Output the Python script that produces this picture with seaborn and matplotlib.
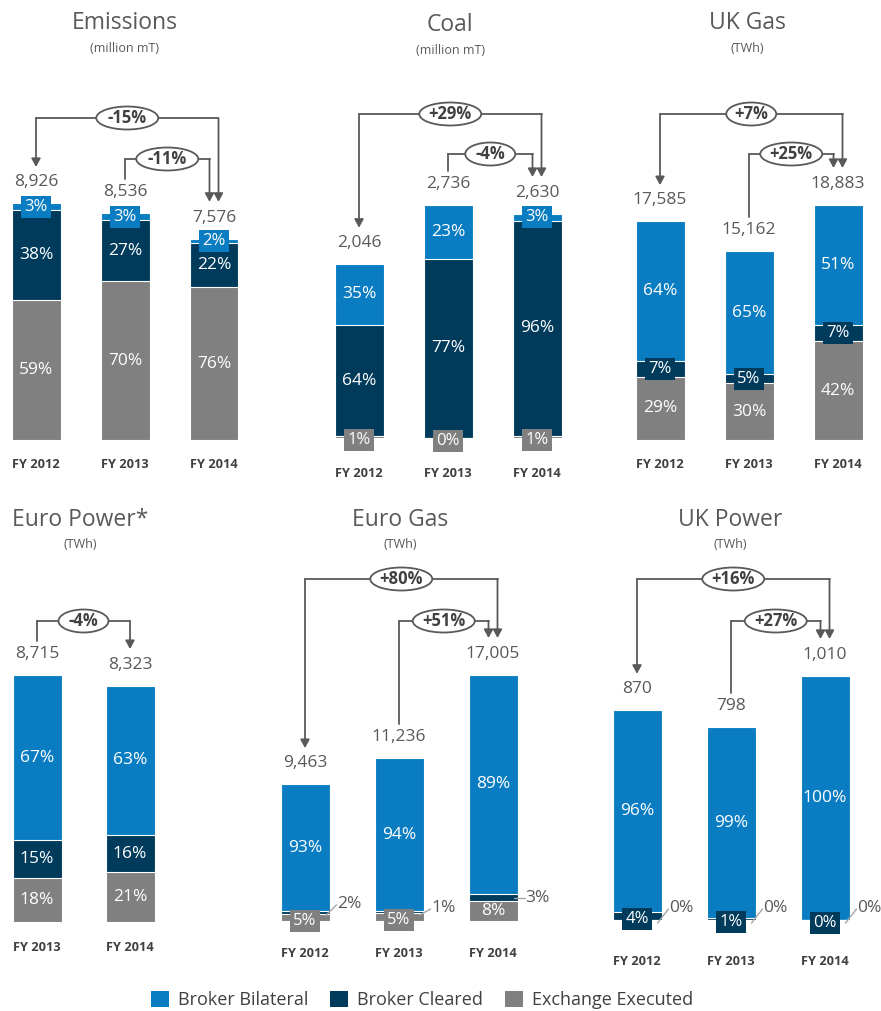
import matplotlib
matplotlib.use("Agg")
import matplotlib.pyplot as plt
from matplotlib.patches import Patch, Ellipse
import seaborn as sns
import pandas as pd

sns.set_theme(style="white")
plt.rcParams["font.family"] = ["Open Sans", "DejaVu Sans"]

W, H, DPI = 881, 1011, 100

BLUE = "#0a7dc2"
NAVY = "#003b5c"
GRAY = "#808080"
LINE = "#595959"
TXT = "#595959"
DARK = "#404040"

series = ["Broker Bilateral", "Broker Cleared", "Exchange Executed"]

# ---------------- data ----------------
emissions_years = ["FY 2012", "FY 2013", "FY 2014"]
emissions_total = [8926, 8536, 7576]
emissions_bilateral = [3, 3, 2]
emissions_cleared = [38, 27, 22]
emissions_exchange = [59, 70, 76]
emissions_changes = ["-15%", "-11%"]

coal_years = ["FY 2012", "FY 2013", "FY 2014"]
coal_total = [2046, 2736, 2630]
coal_bilateral = [35, 23, 3]
coal_cleared = [64, 77, 96]
coal_exchange = [1, 0, 1]
coal_changes = ["+29%", "-4%"]

ukgas_years = ["FY 2012", "FY 2013", "FY 2014"]
ukgas_total = [17585, 15162, 18883]
ukgas_bilateral = [64, 65, 51]
ukgas_cleared = [7, 5, 7]
ukgas_exchange = [29, 30, 42]
ukgas_changes = ["+7%", "+25%"]

europower_years = ["FY 2013", "FY 2014"]
europower_total = [8715, 8323]
europower_bilateral = [67, 63]
europower_cleared = [15, 16]
europower_exchange = [18, 21]
europower_changes = ["-4%"]

eurogas_years = ["FY 2012", "FY 2013", "FY 2014"]
eurogas_total = [9463, 11236, 17005]
eurogas_bilateral = [93, 94, 89]
eurogas_cleared = [2, 1, 3]
eurogas_exchange = [5, 5, 8]
eurogas_changes = ["+80%", "+51%"]

ukpower_years = ["FY 2012", "FY 2013", "FY 2014"]
ukpower_total = [870, 798, 1010]
ukpower_bilateral = [96, 99, 100]
ukpower_cleared = [4, 1, 0]
ukpower_exchange = [0, 0, 0]
ukpower_changes = ["+16%", "+27%"]

# ---------------- layout (pixels, top-origin) ----------------
layouts = {
    "Emissions": dict(unit="(million mT)", tx=125, ty=23, sy=48, c0=36, s=89, bottom=440, top_bar=203,
                      levels=[118, 159], pad=13),
    "Coal": dict(unit="(million mT)", tx=450, ty=25, sy=50, c0=359, s=89, bottom=438, top_bar=205,
                 levels=[114, 154], pad=21),
    "UK Gas": dict(unit="(TWh)", tx=747, ty=23, sy=48, c0=660, s=89, bottom=440, top_bar=205,
                   levels=[114, 154], pad=13),
    "Euro Power*": dict(unit="(TWh)", tx=80, ty=520, sy=545, c0=37, s=93, bottom=922, top_bar=675,
                        levels=[621], pad=14),
    "Euro Gas": dict(unit="(TWh)", tx=400, ty=520, sy=545, c0=305, s=94, bottom=921, top_bar=675,
                     levels=[579, 621], pad=19),
    "UK Power": dict(unit="(TWh)", tx=730, ty=520, sy=545, c0=637, s=94, bottom=920, top_bar=676,
                     levels=[579, 621], pad=25),
}

# segments labelled outside with a leader line: (panel, bar index, series) -> rise in px
outside = {
    ("Euro Gas", 0, "Broker Cleared"): 9,
    ("Euro Gas", 1, "Broker Cleared"): 4,
    ("Euro Gas", 2, "Broker Cleared"): 0,
    ("UK Power", 0, "Exchange Executed"): 12,
    ("UK Power", 1, "Exchange Executed"): 12,
    ("UK Power", 2, "Exchange Executed"): 12,
}

fig = plt.figure(figsize=(W / DPI, H / DPI), dpi=DPI)


def panel(name, years, total, bil, clr, exc, changes):
    L = layouts[name]
    n = len(years)
    s, c0, bottom = L["s"], L["c0"], L["bottom"]
    k = (bottom - L["top_bar"]) / max(total)  # px per unit
    axh = 360
    ax = fig.add_axes([(c0 - 0.5 * s) / W, 1 - bottom / H, n * s / W, axh / H])
    df = pd.DataFrame({"year": years, "total": total, "bil": bil, "clr": clr, "exc": exc})
    df["h_blue"] = df["total"]
    df["h_navy"] = df["total"] * (df["clr"] + df["exc"]) / 100
    df["h_gray"] = df["total"] * df["exc"] / 100
    bw = 49 / s
    for col, color in [("h_blue", BLUE), ("h_navy", NAVY), ("h_gray", GRAY)]:
        sns.barplot(data=df, x="year", y=col, order=years, color=color, saturation=1,
                    width=bw, edgecolor="white", linewidth=0.8, errorbar=None, ax=ax)
    ax.set_xlim(-0.5, n - 0.5)
    ax.set_ylim(0, axh / k)
    for sp in ax.spines.values():
        sp.set_visible(False)
    ax.set_yticks([])
    ax.set_ylabel("")
    ax.set_xlabel("")
    ax.set_xticks(range(n))
    ax.set_xticklabels(years, fontsize=9.2, fontweight="bold", color=DARK)
    ax.tick_params(axis="x", length=0, pad=L["pad"])

    # title
    fig.text(L["tx"] / W, 1 - L["ty"] / H, name, ha="center", va="center", fontsize=16.5, color=TXT)
    fig.text(L["tx"] / W, 1 - L["sy"] / H, L["unit"], ha="center", va="center", fontsize=9, color=TXT)

    px = lambda p: p / k  # px -> data units (y)
    dx = lambda p: p / s  # px -> data units (x)

    for i in range(n):
        t = total[i]
        # total label
        ax.text(i, t + px(21), f"{t:,}", ha="center", va="center", fontsize=12.5, color=TXT)
        segs = [("Exchange Executed", exc[i], GRAY), ("Broker Cleared", clr[i], NAVY),
                ("Broker Bilateral", bil[i], BLUE)]
        lo = 0.0
        for sname, pct, color in segs:
            h = t * pct / 100
            mid = lo + h / 2
            hpx = h * k
            key = (name, i, sname)
            if key in outside:
                rise = outside[key]
                xr = i + bw / 2
                ty = mid + px(rise)
                ax.plot([xr - dx(4), xr + dx(7)], [mid - px(3 if rise else 0), ty - px(1 if rise else 0)],
                        color="#a6a6a6", lw=1, clip_on=False, zorder=6)
                ax.text(xr + dx(8), ty, f"{pct}%", ha="left", va="center", fontsize=12.5,
                        color=TXT, zorder=6)
            elif hpx >= 17:
                ax.text(i, mid, f"{pct}%", ha="center", va="center", fontsize=12.5,
                        color="white", zorder=6)
            else:
                yy = mid - (px(3) if lo == 0 else 0)
                ax.text(i, yy, f"{pct}%", ha="center", va="center", fontsize=12,
                        color="white", zorder=7,
                        bbox=dict(boxstyle="square,pad=0.18", fc=color, ec="none"))
            lo += h

    # change brackets
    arrow_kw = dict(arrowstyle="-|>,head_length=0.55,head_width=0.3", color=LINE, lw=1.3,
                    shrinkA=0, shrinkB=0, mutation_scale=9)
    lvl = lambda p: (bottom - p) / k
    last = n - 1
    if n == 3:
        specs = [(0, last + dx(4.5), changes[0], True, L["levels"][0]),
                 (1, last - dx(4.5), changes[1], False, L["levels"][1])]
    else:
        specs = [(0, last, changes[0], False, L["levels"][0])]
    for x0, x1, lab, start_arrow, lev_px in specs:
        yl = lvl(lev_px)
        y_end = total[last] + px(37)
        y_start = total[x0] + px(36 if start_arrow else 34)
        ax.plot([x0, x1], [yl, yl], color=LINE, lw=1.3, clip_on=False, zorder=3)
        ax.annotate("", xy=(x1, y_end), xytext=(x1, yl), arrowprops=arrow_kw, annotation_clip=False)
        if start_arrow:
            ax.annotate("", xy=(x0, y_start), xytext=(x0, yl), arrowprops=arrow_kw, annotation_clip=False)
        else:
            ax.plot([x0, x0], [y_start, yl], color=LINE, lw=1.3, clip_on=False, zorder=3)
        xm = (x0 + x1) / 2
        ax.add_patch(Ellipse((xm, yl), width=dx(14 + 12 * len(lab)), height=px(23), fc="white",
                             ec=LINE, lw=1.3, clip_on=False, zorder=7))
        ax.text(xm, yl, lab, ha="center", va="center", fontsize=12,
                fontweight="bold", color=DARK, zorder=8)
    return ax


panel("Emissions", emissions_years, emissions_total, emissions_bilateral, emissions_cleared,
      emissions_exchange, emissions_changes)
panel("Coal", coal_years, coal_total, coal_bilateral, coal_cleared, coal_exchange, coal_changes)
panel("UK Gas", ukgas_years, ukgas_total, ukgas_bilateral, ukgas_cleared, ukgas_exchange, ukgas_changes)
panel("Euro Power*", europower_years, europower_total, europower_bilateral, europower_cleared,
      europower_exchange, europower_changes)
panel("Euro Gas", eurogas_years, eurogas_total, eurogas_bilateral, eurogas_cleared, eurogas_exchange,
      eurogas_changes)
panel("UK Power", ukpower_years, ukpower_total, ukpower_bilateral, ukpower_cleared, ukpower_exchange,
      ukpower_changes)

handles = [Patch(facecolor=c, edgecolor="none") for c in (BLUE, NAVY, GRAY)]
fig.legend(handles, series, loc="center", bbox_to_anchor=(422 / W, 1 - 1000 / H), ncol=3,
           frameon=False, fontsize=13, labelcolor=DARK, handlelength=1.0, handleheight=1.0,
           columnspacing=1.2, handletextpad=0.5)

fig.savefig("out.png", dpi=DPI)
